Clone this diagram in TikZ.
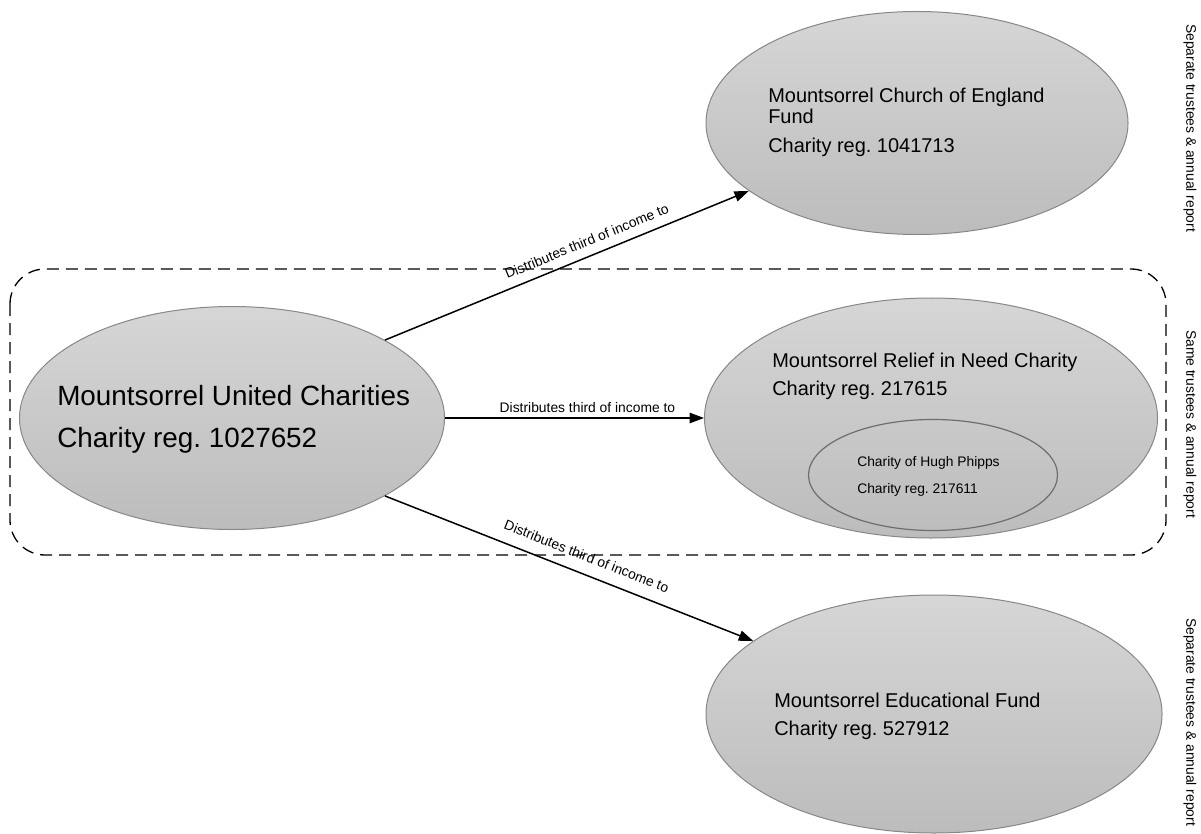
\documentclass[tikz,border=0pt]{standalone}
\usepackage{fontspec}
\setmainfont{Liberation Sans}
\usetikzlibrary{shapes.geometric,arrows.meta}
\definecolor{charitytop}{RGB}{214,214,214}
\definecolor{charitybot}{RGB}{188,188,188}
\definecolor{charityline}{RGB}{135,135,135}
\definecolor{innerline}{RGB}{110,110,110}
\tikzset{
  charity/.style={ellipse, draw=charityline, line width=0.25mm, top color=charitytop, bottom color=charitybot, inner sep=0pt},
  bigtxt/.style={anchor=base west, inner sep=0pt, font=\fontsize{19.8}{24}\selectfont},
  midtxt/.style={anchor=base west, inner sep=0pt, font=\fontsize{14.2}{17}\selectfont},
  smalltxt/.style={inner sep=0pt, font=\fontsize{9.85}{12}\selectfont},
  flow/.style={line width=0.375mm, -{Triangle[length=3.6mm, width=2.6mm]}},
  flowlabel/.style={smalltxt, inner sep=1.2mm}
}
\begin{document}
\begin{tikzpicture}[x=0.25mm, y=-0.25mm]
\useasboundingbox (0,0) rectangle (1201,833);
\draw [dashed, dash pattern=on 3mm off 1.75mm, line width=0.33mm, rounded corners=8.75mm] (10,269) rectangle (1166,555);
\node [charity, minimum width=106.25mm, minimum height=55.75mm] (united) at (232,418) {};
\node [charity, minimum width=105.5mm, minimum height=55.75mm] (cofe) at (917,123) {};
\node [charity, minimum width=113.25mm, minimum height=60mm] (relief) at (931,418) {};
\node [ellipse, draw=innerline, line width=0.3mm, minimum width=62.25mm, minimum height=27.75mm] (phipps) at (933,475) {};
\node [charity, minimum width=114mm, minimum height=59.5mm] (edu) at (934,714) {};
% connectors
\draw [flow] (united.27.5) -- node [flowlabel, inner sep=2.3mm, above, sloped, pos=0.57] (cofe-lbl) {Distributes third of income to} (cofe.202.2);
\draw [flow] (united.east) -- node [flowlabel, above, pos=0.55] (relief-lbl) {Distributes third of income to} (relief.west);
\draw [flow] (united.333.6) -- node [flowlabel, inner sep=3mm, above, sloped, pos=0.53] (edu-lbl) {Distributes third of income to} (edu.158.4);
% texts
\node [bigtxt] (united-name) at (57,405) {Mountsorrel United Charities};
\node [bigtxt] (united-reg) at (57,447) {Charity reg.\ 1027652};
\node [midtxt] (cofe-name) at (768,103) {Mountsorrel Church of England};
\node [midtxt] (cofe-fund) at (768,124) {Fund};
\node [midtxt] (cofe-reg) at (768,153) {Charity reg.\ 1041713};
\node [midtxt] (relief-name) at (772,367) {Mountsorrel Relief in Need Charity};
\node [midtxt] (relief-reg) at (772,395) {Charity reg.\ 217615};
\node [smalltxt, anchor=base west] (phipps-name) at (857,466) {Charity of Hugh Phipps};
\node [smalltxt, anchor=base west] (phipps-reg) at (857,493) {Charity reg.\ 217611};
\node [midtxt] (edu-name) at (774,707) {Mountsorrel Educational Fund};
\node [midtxt] (edu-reg) at (774,735) {Charity reg.\ 527912};
% side notes
\node [smalltxt, rotate=-90] (cofe-note) at (1190,128) {Separate trustees \& annual report};
\node [smalltxt, rotate=-90] (same-note) at (1190,424) {Same trustees \& annual report};
\node [smalltxt, rotate=-90] (edu-note) at (1190,722) {Separate trustees \& annual report};
\end{tikzpicture}
\end{document}
